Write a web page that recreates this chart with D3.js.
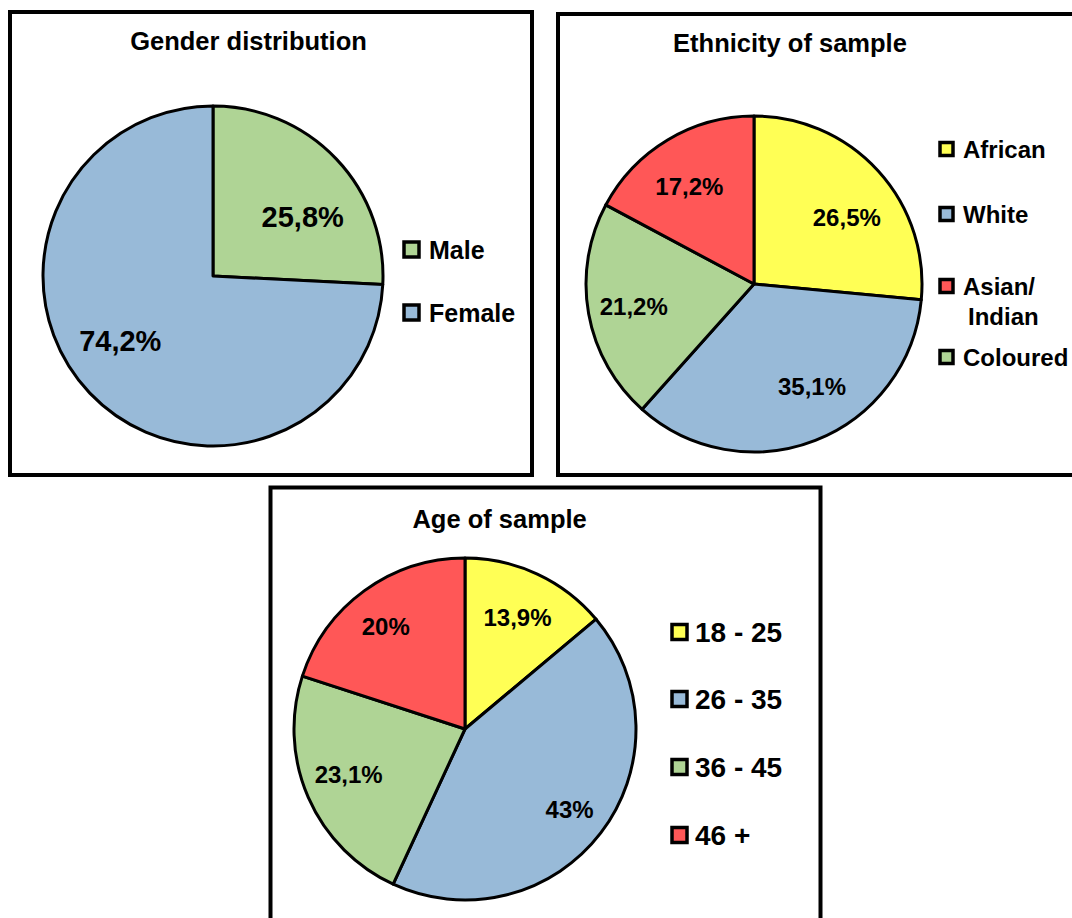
<!DOCTYPE html>
<html>
<head>
<meta charset="utf-8">
<script src="https://cdn.jsdelivr.net/npm/d3@7"></script>
<style>
  body { margin: 0; background: #fff; }
  svg { display: block; }
  text { font-family: "Liberation Sans", Arial, Helvetica, sans-serif; font-weight: bold; fill: #000; }
</style>
</head>
<body>
<svg id="chart" width="1072" height="918"></svg>
<script>
// ---- Data ----
// Gender of respondents
const genderCategories = ["Male", "Female"];
const genderValues = [25.8, 74.2];

// Ethnicity, in slice order clockwise from 12 o'clock
const ethnicityCategories = ["African", "White", "Coloured", "Asian/Indian"];
const ethnicityValues = [26.5, 35.1, 21.2, 17.2];
const ethnicityLegendOrder = ["African", "White", "Asian/Indian", "Coloured"];

// Age bands
const ageCategories = ["18 - 25", "26 - 35", "36 - 45", "46 +"];
const ageValues = [13.9, 43, 23.1, 20];

// ---- Palette ----
const YELLOW = "#ffff55", BLUE = "#98bad8", GREEN = "#afd495", RED = "#ff5757";
const genderColors = [GREEN, BLUE];
const ethnicityColors = [YELLOW, BLUE, GREEN, RED];
const ageColors = [YELLOW, BLUE, GREEN, RED];

// ---- Layout of the three framed panels ----
const panels = [
  {
    title: "Gender distribution", categories: genderCategories, values: genderValues,
    colors: genderColors, legendOrder: genderCategories,
    box: { x: 10, y: 12, w: 522, h: 463 }, titleX: 248.5, titleY: 50,
    cx: 213, cy: 276, r: 170, labelR: 110, labelSize: 29,
    labelNudge: [[10, 16], [-13, -11]],
    legend: { squareX: 404, textX: 429, ys: [249.5, 312.5], size: 15, fontSize: 25 }
  },
  {
    title: "Ethnicity of sample", categories: ethnicityCategories, values: ethnicityValues,
    colors: ethnicityColors, legendOrder: ethnicityLegendOrder,
    box: { x: 558, y: 14, w: 530, h: 461 }, titleX: 790, titleY: 51.5,
    cx: 754, cy: 284, r: 168, labelR: 116, labelSize: 24,
    labelNudge: [[7, 11], [15.6, -5.3], [-6, 2], [-5, 1.5]],
    legend: { squareX: 940, textX: 963, ys: [149, 214, 286, 357], size: 13, fontSize: 24, lineGap: 30 }
  },
  {
    title: "Age of sample", categories: ageCategories, values: ageValues,
    colors: ageColors, legendOrder: ageCategories,
    box: { x: 270.5, y: 487.5, w: 550, h: 460 }, titleX: 499.6, titleY: 528,
    cx: 465, cy: 729, r: 171, labelR: 128, labelSize: 24,
    labelNudge: [[-1.6, 4.5], [3, 3], [1, -6], [-4, 0.6]],
    legend: { squareX: 672, textX: 695, ys: [632, 699, 767, 835], size: 15, fontSize: 28 }
  }
];

const svg = d3.select("#chart");
const fmt = v => String(v).replace(".", ",") + "%";

panels.forEach(p => {
  const g = svg.append("g");

  // frame
  g.append("rect")
    .attr("x", p.box.x).attr("y", p.box.y)
    .attr("width", p.box.w).attr("height", p.box.h)
    .attr("fill", "none").attr("stroke", "#000").attr("stroke-width", 4);

  // title
  g.append("text")
    .attr("x", p.titleX).attr("y", p.titleY)
    .attr("text-anchor", "middle")
    .style("font-size", "25.5px")
    .text(p.title);

  const color = d3.scaleOrdinal().domain(p.categories).range(p.colors);
  const pie = d3.pie().sort(null).value(d => d.value);
  const arcs = pie(p.categories.map((c, i) => ({ category: c, value: p.values[i] })));
  const arc = d3.arc().innerRadius(0).outerRadius(p.r);
  const labelArc = d3.arc().innerRadius(p.labelR).outerRadius(p.labelR);

  const pieG = g.append("g").attr("transform", `translate(${p.cx},${p.cy})`);

  pieG.selectAll("path")
    .data(arcs)
    .join("path")
    .attr("d", arc)
    .attr("fill", d => color(d.data.category))
    .attr("stroke", "#000")
    .attr("stroke-width", 3)
    .attr("stroke-linejoin", "round");

  pieG.selectAll("text.val")
    .data(arcs)
    .join("text")
    .attr("class", "val")
    .attr("transform", (d, i) => {
      const [x, y] = labelArc.centroid(d);
      const [nx, ny] = p.labelNudge[i];
      return `translate(${x + nx},${y + ny})`;
    })
    .attr("text-anchor", "middle")
    .attr("dy", "0.36em")
    .style("font-size", p.labelSize + "px")
    .text(d => fmt(d.data.value));

  // legend
  const L = p.legend;
  const items = g.selectAll("g.legend-item")
    .data(p.legendOrder)
    .join("g")
    .attr("class", "legend-item")
    .attr("transform", (d, i) => `translate(0,${L.ys[i]})`);

  items.append("rect")
    .attr("x", L.squareX).attr("y", -L.size / 2)
    .attr("width", L.size).attr("height", L.size)
    .attr("fill", d => color(d))
    .attr("stroke", "#000").attr("stroke-width", 3.5);

  items.each(function (d) {
    const lines = d.includes("/") ? [d.slice(0, d.indexOf("/") + 1), d.slice(d.indexOf("/") + 1)] : [d];
    const t = d3.select(this).append("text")
      .attr("x", L.textX).attr("y", 0)
      .attr("dy", "0.36em")
      .style("font-size", L.fontSize + "px");
    lines.forEach((line, j) => {
      t.append("tspan")
        .attr("x", j === 0 ? L.textX : L.textX + 5)
        .attr("dy", j === 0 ? "0.36em" : L.lineGap)
        .text(line);
    });
    t.attr("dy", null);
  });
});
</script>
</body>
</html>
